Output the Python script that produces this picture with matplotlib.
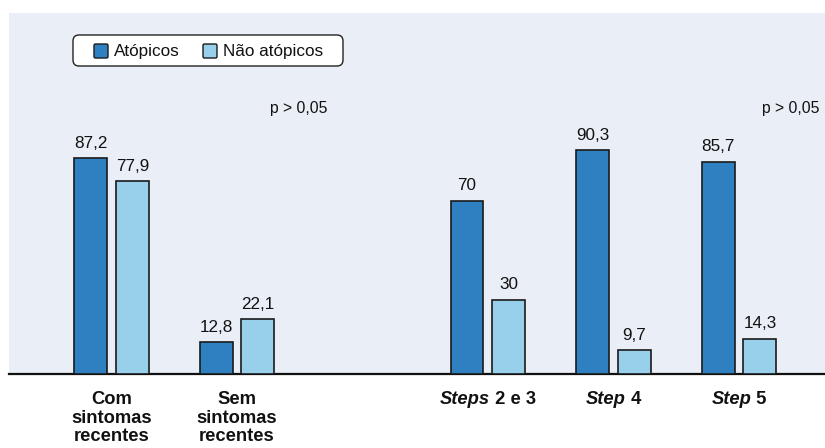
import matplotlib
matplotlib.use("Agg")
import matplotlib.pyplot as plt
import matplotlib.transforms as mtransforms
from matplotlib.patches import Rectangle, FancyBboxPatch

plt.rcParams['font.family'] = ['Liberation Sans', 'DejaVu Sans']

# Data
positions = [0, 1, 3, 4, 5]
atopicos = [87.2, 12.8, 70, 90.3, 85.7]
nao_atopicos = [77.9, 22.1, 30, 9.7, 14.3]
series_names = ["Atópicos", "Não atópicos"]
# category labels: (italic part, regular part)
categories = [("", "Com\nsintomas\nrecentes"), ("", "Sem\nsintomas\nrecentes"),
              ("Steps", " 2 e 3"), ("Step", " 4"), ("Step", " 5")]
p_labels = ["p > 0,05", "p > 0,05"]

def fmt(v):
    return f"{v:g}".replace(".", ",")

dark = "#2f80c0"
light = "#98cfeb"
bg = "#eaeef6"
ink = "#111111"

W, H = 825, 448
left_px, top_px, base_px = 9, 13, 374
fig = plt.figure(figsize=(W / 100, H / 100), dpi=100)
ax = fig.add_axes([left_px / W, (H - base_px) / H, (W - left_px) / W, (base_px - top_px) / H])
ax.set_facecolor(bg)

unit = 125.5
x0 = 111.5
ppu = 2.477
ax.set_xlim((left_px - x0) / unit, (W - x0) / unit)
ax.set_ylim(0, (base_px - top_px) / ppu)

bw = 33 / unit
off = 21 / unit
xa = [p - off for p in positions]
xn = [p + off for p in positions]
ax.bar(xa, atopicos, width=bw, color=dark, edgecolor="#1a1a1a", linewidth=1.2, zorder=3)
ax.bar(xn, nao_atopicos, width=bw, color=light, edgecolor="#1a1a1a", linewidth=1.2, zorder=3)

for x, v in zip(xa, atopicos):
    ax.text(x, v + 3, fmt(v), ha="center", va="bottom", fontsize=12.3, color=ink)
for x, v in zip(xn, nao_atopicos):
    ax.text(x, v + 3, fmt(v), ha="center", va="bottom", fontsize=12.3, color=ink)

for s in ["top", "left", "right"]:
    ax.spines[s].set_visible(False)
ax.spines["bottom"].set_linewidth(1.6)
ax.spines["bottom"].set_color(ink)
ax.set_xticks([])
ax.set_yticks([])

# Category labels below the axis, with italic prefix where present
fig.canvas.draw()
renderer = fig.canvas.get_renderer()
label_y = -17 / ppu
lab_fs = 13.2
for p, (ital, rest) in zip(positions, categories):
    if not ital:
        ax.text(p, label_y, rest, ha="center", va="top", fontsize=lab_fs,
                fontweight="bold", linespacing=1.12, color=ink, clip_on=False)
        continue
    t1 = ax.text(p, label_y, ital, ha="left", va="top", fontsize=lab_fs,
                 fontweight="bold", fontstyle="italic", color=ink, clip_on=False)
    t2 = ax.text(p, label_y, rest, ha="left", va="top", fontsize=lab_fs,
                 fontweight="bold", color=ink, clip_on=False)
    w1 = t1.get_window_extent(renderer).width
    w2 = t2.get_window_extent(renderer).width
    total = w1 + w2
    t1.set_transform(mtransforms.offset_copy(ax.transData, fig=fig, x=-total / 2, y=0, units="dots"))
    t2.set_transform(mtransforms.offset_copy(ax.transData, fig=fig, x=-total / 2 + w1, y=0, units="dots"))

# Overlay in pixel units for the legend box and the p-value notes
ov = fig.add_axes([0, 0, 1, 1], facecolor="none")
ov.set_xlim(0, W)
ov.set_ylim(H, 0)
ov.axis("off")

ov.add_patch(FancyBboxPatch((73, 35), 270, 31, boxstyle="round,pad=0,rounding_size=6",
                            facecolor="white", edgecolor="#222222", linewidth=1.0))
for sx, tx, col, name in [(94, 114, dark, series_names[0]),
                          (203, 223, light, series_names[1])]:
    ov.add_patch(FancyBboxPatch((sx, 44), 14, 14, boxstyle="round,pad=0,rounding_size=1.5",
                                facecolor=col, edgecolor="#1a1a1a", linewidth=1.0))
    ov.text(tx, 51.5, name, ha="left", va="center", fontsize=12.3, color=ink)

ov.text(299, 109, p_labels[0], ha="center", va="center", fontsize=11.3, color=ink)
ov.text(791, 109, p_labels[1], ha="center", va="center", fontsize=11.3, color=ink)

fig.savefig("out.png", dpi=100, facecolor="white")
